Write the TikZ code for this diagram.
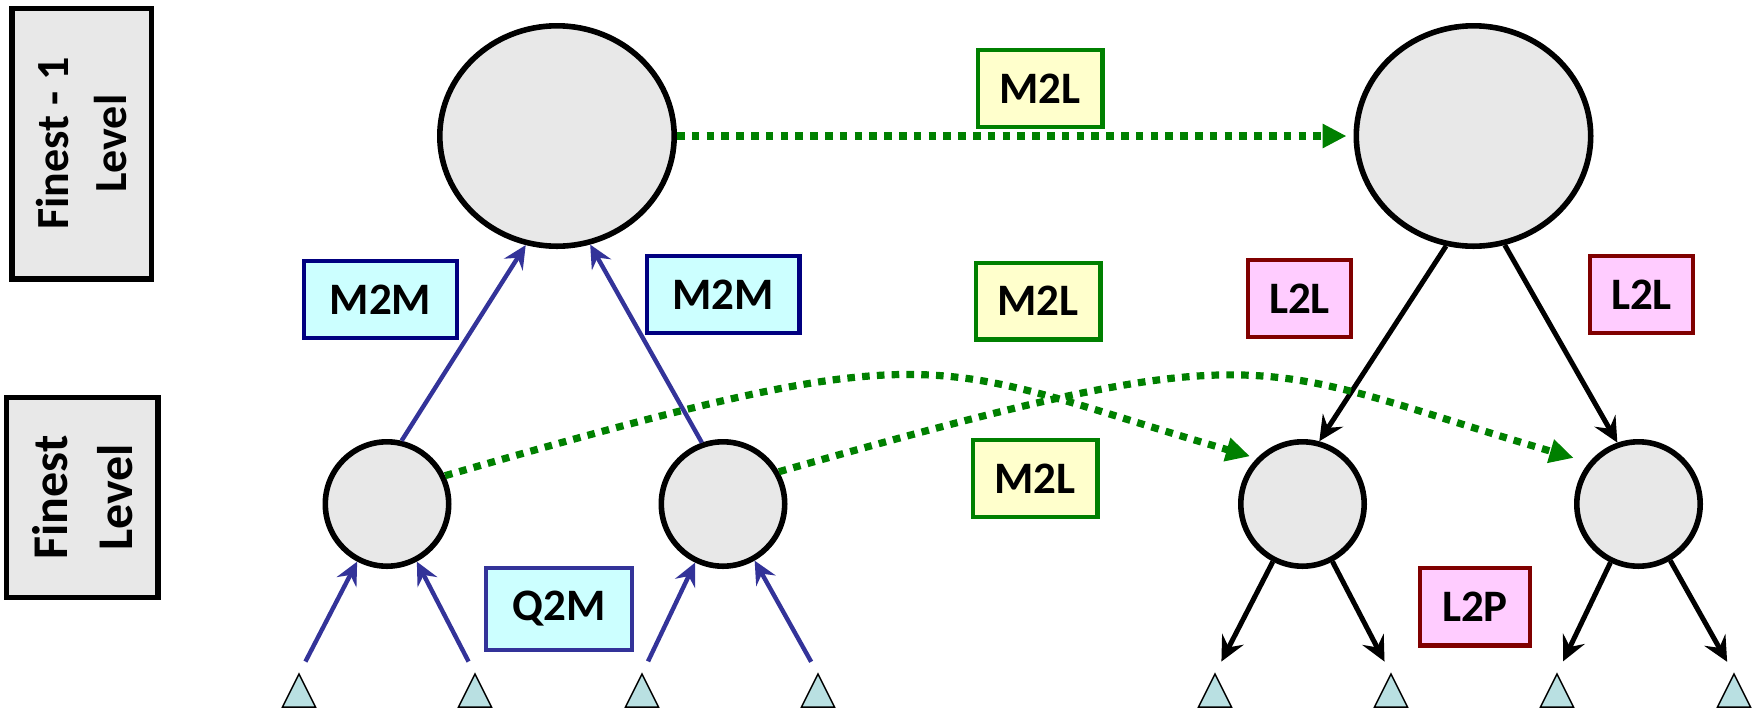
\documentclass[tikz,border=0pt]{standalone}
\usepackage{fontspec}
\setmainfont{Carlito}
\usetikzlibrary{arrows.meta,shapes.geometric}
\definecolor{upward}{HTML}{333399}
\definecolor{navyedge}{HTML}{000080}
\definecolor{transfer}{HTML}{008000}
\definecolor{downward}{HTML}{800000}
\definecolor{mfill}{HTML}{CCFFFF}
\definecolor{tfill}{HTML}{FFFFCC}
\definecolor{lfill}{HTML}{FFCCFF}
\definecolor{cellgray}{HTML}{E8E8E8}
\definecolor{leaffill}{HTML}{B9E0E2}

\begin{document}
\begin{tikzpicture}[x=0.5pt,y=-0.5pt,
  cell/.style={ellipse,draw,line width=2.8pt,fill=cellgray,inner sep=0pt},
  opbox/.style={draw,line width=2.2pt,inner sep=0pt,minimum height=38.3pt,font=\fontsize{22.5}{27}\selectfont\bfseries},
  mbox/.style={opbox,draw=navyedge,fill=mfill},
  tbox/.style={opbox,draw=transfer,fill=tfill},
  lbox/.style={opbox,draw=downward,fill=lfill},
  levelbox/.style={draw,line width=2.6pt,fill=cellgray,rotate=90,align=center,inner sep=0pt},
  upflow/.style={draw=upward,line width=2.2pt,-{Stealth[length=11.5pt,width=11pt,inset=4pt]}},
  downflow/.style={draw=black,line width=2.5pt,-{Stealth[length=12.5pt,width=12pt,inset=4.5pt]}},
  farfield/.style={draw=transfer,line width=3.6pt,dash pattern=on 3.8pt off 3.6pt,-{Triangle[length=12pt,width=11.5pt]}}]
\useasboundingbox (0,0) rectangle (1758,709);
% level boxes
\node[levelbox,minimum width=135.3pt,minimum height=69.6pt,font=\fontsize{23}{29}\selectfont\bfseries] (coarse) at (81.6,143.7) {Finest - 1\\Level};
\node[levelbox,minimum width=100.1pt,minimum height=75.6pt,font=\fontsize{25}{32.5}\selectfont\bfseries] (fine) at (82.3,497.5) {Finest\\Level};
% cells
\node[cell,minimum width=117.2pt,minimum height=110.2pt] (parentM) at (557,136) {};
\node[cell,minimum width=117.2pt,minimum height=110.2pt] (parentL) at (1473.5,136) {};
\foreach \x/\n in {387/childM1,723/childM2,1302.5/childL1,1638.5/childL2}
  \node[cell,minimum width=61.7pt,minimum height=62.2pt] (\n) at (\x,504) {};
% leaves
\foreach \x [count=\i] in {299,475,642,818,1215,1391,1557,1734} {
  \coordinate (leaf\i) at (\x,674);
  \draw[line width=0.75pt,fill=leaffill] (leaf\i) -- ++(16.5,33) -- ++(-33,0) -- cycle;
}
% operator labels
\node[mbox,minimum width=76.3pt] (m2mA) at (380.5,299.5) {M2M};
\node[mbox,minimum width=76.3pt] (m2mB) at (723,294.5) {M2M};
\node[mbox,draw=upward,minimum width=72.8pt,minimum height=40.8pt] (q2m) at (559,609) {Q2M};
\node[tbox,minimum width=62.3pt] (m2lA) at (1040,88.5) {M2L};
\node[tbox,minimum width=62.3pt] (m2lB) at (1038,301) {M2L};
\node[tbox,minimum width=62.3pt] (m2lC) at (1035,478.5) {M2L};
\node[lbox,minimum width=51.3pt] (l2lA) at (1299.5,298.5) {L2L};
\node[lbox,minimum width=51.3pt] (l2lB) at (1641.5,294.5) {L2L};
\node[lbox,minimum width=54.8pt,minimum height=38.8pt] (l2p) at (1475,606.7) {L2P};
% upward pass
\draw[upflow,shorten <=7pt] (leaf1) -- (childM1); \draw[upflow,shorten <=7pt] (leaf2) -- (childM1);
\draw[upflow,shorten <=7pt] (leaf3) -- (childM2); \draw[upflow,shorten <=7pt] (leaf4) -- (childM2);
\draw[upflow] (childM1.77) -- (parentM.254); \draw[upflow] (childM2.109) -- (parentM.287);
% downward pass
\draw[downflow] (parentL.256) -- (childL1.75); \draw[downflow] (parentL.286) -- (childL2.109);
\draw[downflow,shorten >=7pt] (childL1) -- (leaf5); \draw[downflow,shorten >=7pt] (childL1) -- (leaf6);
\draw[downflow,shorten >=7pt] (childL2) -- (leaf7); \draw[downflow,shorten >=7pt] (childL2) -- (leaf8);
% far-field transfers
\draw[farfield,shorten >=3.5pt] (parentM) -- (parentL);
\draw[farfield,shorten >=3.5pt] (childM1.26) .. controls (952,329) and (922,361) .. (childL1.135);
\draw[farfield,shorten >=8pt] (childM2.30) .. controls (1277,330) and (1247,362) .. (childL2.140);
\end{tikzpicture}
\end{document}
